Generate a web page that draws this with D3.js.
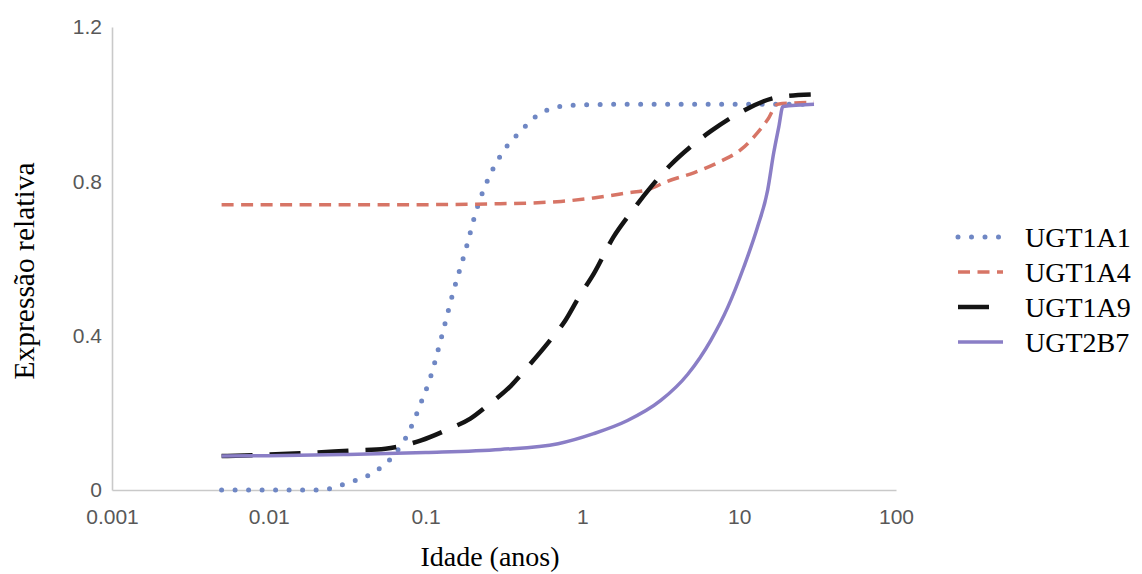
<!DOCTYPE html>
<html>
<head>
<meta charset="utf-8">
<script src="https://cdn.jsdelivr.net/npm/d3@7"></script>
<style>
  html, body { margin: 0; padding: 0; background: #fff; }
  svg { display: block; }
</style>
</head>
<body>
<svg id="chart" width="1142" height="574"></svg>
<script>
// Age (years) and relative expression for each UGT isoform
const seriesNames = ["UGT1A1", "UGT1A4", "UGT1A9", "UGT2B7"];

const ugt1a1Age = [0.005, 0.01, 0.02, 0.025, 0.03, 0.045, 0.062, 0.079, 0.093, 0.107, 0.127, 0.15, 0.18, 0.213, 0.247, 0.303, 0.397, 0.555, 0.84, 2, 5, 10, 17.5, 30];
const ugt1a1Val = [0, 0, 0, 0.004, 0.015, 0.042, 0.088, 0.154, 0.224, 0.29, 0.40, 0.513, 0.622, 0.731, 0.80, 0.869, 0.927, 0.979, 0.997, 1.0, 1.0, 1.0, 1.0, 1.0];

const ugt1a4Age = [0.005, 0.05, 0.3, 0.73, 1.18, 1.94, 2.6, 3.48, 5.13, 7.63, 10.24, 13.1, 15.2, 17.6, 30];
const ugt1a4Val = [0.739, 0.739, 0.742, 0.748, 0.757, 0.77, 0.778, 0.80, 0.822, 0.852, 0.882, 0.926, 0.96, 1.0, 1.005];

const ugt1a9Age = [0.005, 0.0159, 0.0331, 0.0554, 0.0927, 0.144, 0.193, 0.25, 0.35, 0.45, 0.6, 0.78, 0.95, 1.18, 1.58, 2.03, 2.73, 3.66, 4.91, 6.59, 9.8, 17.6, 28.6];
const ugt1a9Val = [0.088, 0.095, 0.102, 0.107, 0.128, 0.16, 0.185, 0.22, 0.27, 0.32, 0.38, 0.44, 0.50, 0.56, 0.656, 0.718, 0.785, 0.843, 0.89, 0.93, 0.975, 1.018, 1.025];

const ugt2b7Age = [0.005, 0.01, 0.03, 0.1, 0.3, 0.7, 1.18, 1.94, 3.16, 4.7, 6.59, 8.46, 10.7, 13.1, 15.2, 16.6, 17.9, 19.0, 30];
const ugt2b7Val = [0.088, 0.089, 0.092, 0.097, 0.105, 0.12, 0.146, 0.18, 0.232, 0.30, 0.388, 0.474, 0.578, 0.682, 0.778, 0.874, 0.942, 0.994, 1.0];

const xTickValues = [0.001, 0.01, 0.1, 1, 10, 100];
const xTickLabels = ["0.001", "0.01", "0.1", "1", "10", "100"];
const yTickValues = [0, 0.4, 0.8, 1.2];
const yTickLabels = ["0", "0.4", "0.8", "1.2"];

const xTitle = "Idade (anos)";
const yTitle = "Expressão relativa";

// Line styles per series
const styles = {
  UGT1A1: { color: "#6f87c4", width: 5, dash: "0,13.5", cap: "round" },
  UGT1A4: { color: "#d77566", width: 3.5, dash: "12,7.5", cap: "butt" },
  UGT1A9: { color: "#141414", width: 4.5, dash: "31,17", cap: "butt" },
  UGT2B7: { color: "#8a7ec6", width: 3.5, dash: null, cap: "butt" }
};

const series = [
  { name: "UGT1A1", age: ugt1a1Age, val: ugt1a1Val },
  { name: "UGT1A4", age: ugt1a4Age, val: ugt1a4Val },
  { name: "UGT1A9", age: ugt1a9Age, val: ugt1a9Val },
  { name: "UGT2B7", age: ugt2b7Age, val: ugt2b7Val }
];

const svg = d3.select("#chart");

const x = d3.scaleLog().domain([0.001, 100]).range([112, 896]);
const y = d3.scaleLinear().domain([0, 1.2]).range([490, 27]);

// Axes
const xAxis = d3.axisBottom(x)
  .tickValues(xTickValues)
  .tickFormat((d, i) => xTickLabels[i])
  .tickSize(0)
  .tickPadding(19);

const yAxis = d3.axisLeft(y)
  .tickValues(yTickValues)
  .tickFormat((d, i) => yTickLabels[i])
  .tickSize(0)
  .tickPadding(10);

const gx = svg.append("g").attr("transform", `translate(0,${y(0)})`).call(xAxis);
const gy = svg.append("g").attr("transform", `translate(${x(0.001)},0)`).call(yAxis);

[gx, gy].forEach(g => {
  g.select(".domain").attr("stroke", "#c9c9c9").attr("stroke-width", 1.6);
  g.selectAll(".tick text")
    .attr("fill", "#585858")
    .style("font-family", "'Liberation Sans', Arial, sans-serif")
    .style("font-size", "21px");
});

// Curves
const line = d3.line()
  .x(d => x(d[0]))
  .y(d => y(d[1]))
  .curve(d3.curveMonotoneX);

const plot = svg.append("g");
series.forEach(s => {
  const st = styles[s.name];
  const pts = d3.zip(s.age, s.val);
  plot.append("path")
    .datum(pts)
    .attr("d", line)
    .attr("fill", "none")
    .attr("stroke", st.color)
    .attr("stroke-width", st.width)
    .attr("stroke-linecap", st.cap)
    .attr("stroke-dasharray", st.dash);
});

// Axis titles
svg.append("text")
  .attr("x", 490)
  .attr("y", 566)
  .attr("text-anchor", "middle")
  .style("font-family", "'Liberation Serif', 'Times New Roman', serif")
  .style("font-size", "28px")
  .attr("fill", "#000")
  .text(xTitle);

svg.append("text")
  .attr("transform", "translate(34,271) rotate(-90)")
  .attr("text-anchor", "middle")
  .style("font-family", "'Liberation Serif', 'Times New Roman', serif")
  .style("font-size", "29.5px")
  .attr("fill", "#000")
  .text(yTitle);

// Legend
const legend = svg.append("g");
const legendY = d3.scalePoint().domain(seriesNames).range([237, 342]);
seriesNames.forEach(name => {
  const st = styles[name];
  const yy = legendY(name);
  legend.append("line")
    .attr("x1", 958).attr("x2", 1003)
    .attr("y1", yy).attr("y2", yy)
    .attr("stroke", st.color)
    .attr("stroke-width", st.width)
    .attr("stroke-linecap", st.cap)
    .attr("stroke-dasharray", st.dash);
  legend.append("text")
    .attr("x", 1025)
    .attr("y", yy)
    .attr("dy", "0.35em")
    .style("font-family", "'Liberation Serif', 'Times New Roman', serif")
    .style("font-size", "28px")
    .attr("fill", "#000")
    .text(name);
});
</script>
</body>
</html>
